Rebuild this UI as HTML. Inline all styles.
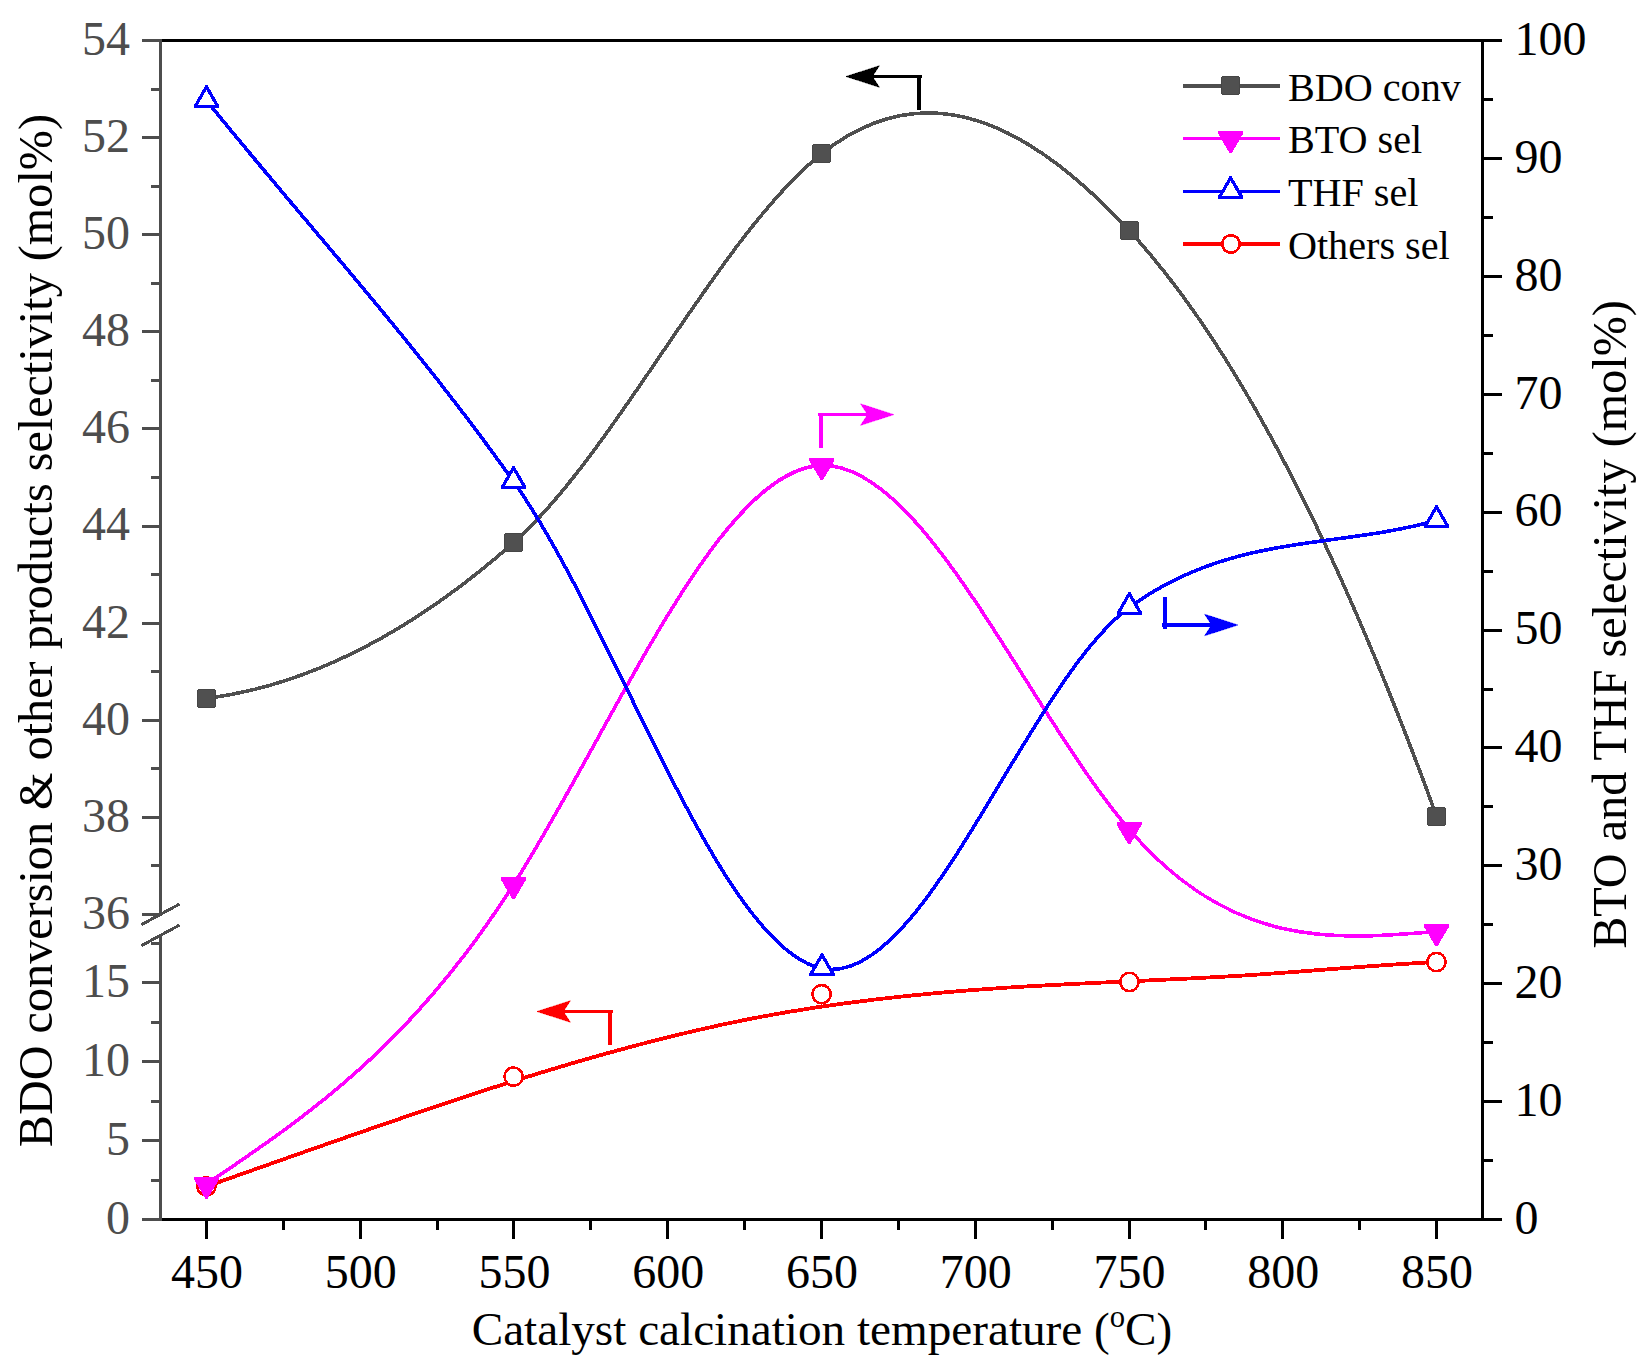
<!DOCTYPE html>
<html lang="en"><head><meta charset="utf-8"><title>BDO conversion and selectivity vs catalyst calcination temperature</title>
<style>html,body{margin:0;padding:0;background:#fff}body{width:1651px;height:1372px;overflow:hidden;font-family:"Liberation Serif","Times New Roman",Times,serif}svg text{white-space:pre}</style>
</head><body>
<svg width="1651" height="1372" viewBox="0 0 1651 1372" shape-rendering="crispEdges" style="display:block">
<rect width="1651" height="1372" fill="#fff"/>
<path d="M206.4,698.5 C308.8,685.2 411.2,633.2 513.6,542.6 C616.2,451.8 718.9,235.5 821.5,153.9 C924.1,72.4 1026.6,119.8 1129.2,230.6 C1231.7,341.3 1334.1,534.6 1436.6,816.4" fill="none" stroke="#4f4f4f" stroke-width="3.6" stroke-linejoin="round"/>
<path d="M198,689h17v1h1v17h-1v1h-17v-1h-1v-17h1z" fill="#464646"/><rect x="198" y="690" width="17" height="17" fill="#505050"/>
<path d="M505,533h17v1h1v17h-1v1h-17v-1h-1v-17h1z" fill="#464646"/><rect x="505" y="534" width="17" height="17" fill="#505050"/>
<path d="M813,144h17v1h1v17h-1v1h-17v-1h-1v-17h1z" fill="#464646"/><rect x="813" y="145" width="17" height="17" fill="#505050"/>
<path d="M1121,221h17v1h1v17h-1v1h-17v-1h-1v-17h1z" fill="#464646"/><rect x="1121" y="222" width="17" height="17" fill="#505050"/>
<path d="M1428,807h17v1h1v17h-1v1h-17v-1h-1v-17h1z" fill="#464646"/><rect x="1428" y="808" width="17" height="17" fill="#505050"/>
<path d="M206.4,1186.5 C304.3,1152.0 402.1,1116.6 500.0,1085.4 C583.3,1058.8 666.7,1035.2 750.0,1018.9 C833.3,1002.6 916.7,993.6 1000.0,988.1 C1083.3,982.5 1166.7,980.5 1250.0,975.1 C1312.2,971.0 1374.3,965.1 1436.5,962.0" fill="none" stroke="#ff0000" stroke-width="3.8" stroke-linejoin="round"/>
<circle cx="206.40" cy="1186.40" r="9.15" fill="#fff" stroke="#ff0000" stroke-width="2.6"/>
<circle cx="513.60" cy="1076.60" r="9.15" fill="#fff" stroke="#ff0000" stroke-width="2.6"/>
<circle cx="821.60" cy="994.20" r="9.15" fill="#fff" stroke="#ff0000" stroke-width="2.6"/>
<circle cx="1129.45" cy="981.95" r="9.15" fill="#fff" stroke="#ff0000" stroke-width="2.6"/>
<circle cx="1436.45" cy="962.05" r="9.15" fill="#fff" stroke="#ff0000" stroke-width="2.6"/>
<path d="M206.5,1184.1 C308.8,1114.9 411.2,1045.7 513.5,884.6 C616.3,722.8 719.0,468.3 821.8,465.5 C924.3,462.7 1026.7,710.1 1129.2,829.5 C1231.6,948.8 1334.1,940.2 1436.5,931.5" fill="none" stroke="#ff00ff" stroke-width="3.6" stroke-linejoin="round"/>
<path d="M193.95,1176.50 H219.05 V1179.30 L207.50,1198.90 H205.50 L193.95,1179.30 Z" fill="#ff00ff"/>
<path d="M500.95,877.00 H526.05 V879.80 L514.50,899.40 H512.50 L500.95,879.80 Z" fill="#ff00ff"/>
<path d="M809.25,457.90 H834.35 V460.70 L822.80,480.30 H820.80 L809.25,460.70 Z" fill="#ff00ff"/>
<path d="M1116.65,821.90 H1141.75 V824.70 L1130.20,844.30 H1128.20 L1116.65,824.70 Z" fill="#ff00ff"/>
<path d="M1423.95,923.90 H1449.05 V926.70 L1437.50,946.30 H1435.50 L1423.95,926.70 Z" fill="#ff00ff"/>
<path d="M206.5,100.5 C308.8,227.5 411.2,337.1 513.5,481.4 C616.4,626.4 719.2,947.7 822.0,968.5 C924.5,989.2 1026.9,682.1 1129.4,607.4 C1231.8,532.8 1334.1,549.4 1436.5,520.4" fill="none" stroke="#0000ff" stroke-width="3.6" stroke-linejoin="round"/>
<path d="M193.95,108.10 H219.05 V105.30 L207.50,85.20 H205.50 L193.95,105.30 Z" fill="#0000ff"/><path d="M197.90,105.10 L215.10,105.10 L206.50,90.00 Z" fill="#fff"/>
<path d="M501.00,489.00 H526.10 V486.20 L514.55,466.10 H512.55 L501.00,486.20 Z" fill="#0000ff"/><path d="M504.95,486.00 L522.15,486.00 L513.55,470.90 Z" fill="#fff"/>
<path d="M809.45,976.10 H834.55 V973.30 L823.00,953.20 H821.00 L809.45,973.30 Z" fill="#0000ff"/><path d="M813.40,973.10 L830.60,973.10 L822.00,958.00 Z" fill="#fff"/>
<path d="M1116.85,615.00 H1141.95 V612.20 L1130.40,592.10 H1128.40 L1116.85,612.20 Z" fill="#0000ff"/><path d="M1120.80,612.00 L1138.00,612.00 L1129.40,596.90 Z" fill="#fff"/>
<path d="M1423.95,528.00 H1449.05 V525.20 L1437.50,505.10 H1435.50 L1423.95,525.20 Z" fill="#0000ff"/><path d="M1427.90,525.00 L1445.10,525.00 L1436.50,509.90 Z" fill="#fff"/>
<g stroke-width="3" fill="none" stroke-linecap="butt">
<path d="M159.0,40.5 H1484.0 M159.0,1219.5 H1484.0 M1482.5,40.5 V1219.5" stroke="#000"/>
<path d="M160.5,39.0 V915.5 M160.5,934.5 V1221.0" stroke="#4d4d4d"/>
<path d="M142.6,924.0 L178.4,904.7 M142.6,945.0 L178.4,925.7" stroke="#4d4d4d" stroke-width="3" stroke-linecap="round"/>
<path d="M142.0,914.5 H160.5 M151.0,865.9 H160.5 M142.0,817.4 H160.5 M151.0,768.8 H160.5 M142.0,720.3 H160.5 M151.0,671.7 H160.5 M142.0,623.2 H160.5 M151.0,574.6 H160.5 M142.0,526.1 H160.5 M151.0,477.5 H160.5 M142.0,428.9 H160.5 M151.0,380.4 H160.5 M142.0,331.8 H160.5 M151.0,283.3 H160.5 M142.0,234.7 H160.5 M151.0,186.2 H160.5 M142.0,137.6 H160.5 M151.0,89.1 H160.5 M142.0,40.5 H160.5 M142.0,1219.5 H160.5 M151.0,1180.0 H160.5 M142.0,1140.5 H160.5 M151.0,1101.0 H160.5 M142.0,1061.5 H160.5 M151.0,1022.0 H160.5 M142.0,982.5 H160.5 M151.0,943.0 H160.5 " stroke="#4d4d4d"/>
<path d="M1482.5,1219.5 H1502.0 M1482.5,1160.5 H1493.0 M1482.5,1101.6 H1502.0 M1482.5,1042.7 H1493.0 M1482.5,983.7 H1502.0 M1482.5,924.8 H1493.0 M1482.5,865.8 H1502.0 M1482.5,806.9 H1493.0 M1482.5,747.9 H1502.0 M1482.5,689.0 H1493.0 M1482.5,630.0 H1502.0 M1482.5,571.1 H1493.0 M1482.5,512.1 H1502.0 M1482.5,453.2 H1493.0 M1482.5,394.2 H1502.0 M1482.5,335.3 H1493.0 M1482.5,276.3 H1502.0 M1482.5,217.4 H1493.0 M1482.5,158.4 H1502.0 M1482.5,99.5 H1493.0 M1482.5,40.5 H1502.0 M206.4,1219.5 V1239.0 M283.3,1219.5 V1229.5 M360.2,1219.5 V1239.0 M437.0,1219.5 V1229.5 M513.9,1219.5 V1239.0 M590.8,1219.5 V1229.5 M667.7,1219.5 V1239.0 M744.6,1219.5 V1229.5 M821.4,1219.5 V1239.0 M898.3,1219.5 V1229.5 M975.2,1219.5 V1239.0 M1052.1,1219.5 V1229.5 M1129.0,1219.5 V1239.0 M1205.9,1219.5 V1229.5 M1282.7,1219.5 V1239.0 M1359.6,1219.5 V1229.5 M1436.5,1219.5 V1239.0 " stroke="#000"/>
</g>
<g font-family='"Liberation Serif","Times New Roman",Times,serif' font-size="48">
<text x="130.0" y="928.8" text-anchor="end" fill="#4d4d4d">36</text>
<text x="130.0" y="831.7" text-anchor="end" fill="#4d4d4d">38</text>
<text x="130.0" y="734.6" text-anchor="end" fill="#4d4d4d">40</text>
<text x="130.0" y="637.5" text-anchor="end" fill="#4d4d4d">42</text>
<text x="130.0" y="540.4" text-anchor="end" fill="#4d4d4d">44</text>
<text x="130.0" y="443.3" text-anchor="end" fill="#4d4d4d">46</text>
<text x="130.0" y="346.2" text-anchor="end" fill="#4d4d4d">48</text>
<text x="130.0" y="249.0" text-anchor="end" fill="#4d4d4d">50</text>
<text x="130.0" y="151.9" text-anchor="end" fill="#4d4d4d">52</text>
<text x="130.0" y="54.8" text-anchor="end" fill="#4d4d4d">54</text>
<text x="130.0" y="1233.8" text-anchor="end" fill="#4d4d4d">0</text>
<text x="130.0" y="1154.8" text-anchor="end" fill="#4d4d4d">5</text>
<text x="130.0" y="1075.8" text-anchor="end" fill="#4d4d4d">10</text>
<text x="130.0" y="996.8" text-anchor="end" fill="#4d4d4d">15</text>
<text x="1514.5" y="1233.8" text-anchor="start" fill="#000">0</text>
<text x="1514.5" y="1115.9" text-anchor="start" fill="#000">10</text>
<text x="1514.5" y="998.0" text-anchor="start" fill="#000">20</text>
<text x="1514.5" y="880.1" text-anchor="start" fill="#000">30</text>
<text x="1514.5" y="762.2" text-anchor="start" fill="#000">40</text>
<text x="1514.5" y="644.3" text-anchor="start" fill="#000">50</text>
<text x="1514.5" y="526.4" text-anchor="start" fill="#000">60</text>
<text x="1514.5" y="408.5" text-anchor="start" fill="#000">70</text>
<text x="1514.5" y="290.6" text-anchor="start" fill="#000">80</text>
<text x="1514.5" y="172.7" text-anchor="start" fill="#000">90</text>
<text x="1514.5" y="54.8" text-anchor="start" fill="#000">100</text>
<text x="206.9" y="1288.2" text-anchor="middle" fill="#000">450</text>
<text x="360.7" y="1288.2" text-anchor="middle" fill="#000">500</text>
<text x="514.4" y="1288.2" text-anchor="middle" fill="#000">550</text>
<text x="668.2" y="1288.2" text-anchor="middle" fill="#000">600</text>
<text x="821.9" y="1288.2" text-anchor="middle" fill="#000">650</text>
<text x="975.7" y="1288.2" text-anchor="middle" fill="#000">700</text>
<text x="1129.5" y="1288.2" text-anchor="middle" fill="#000">750</text>
<text x="1283.2" y="1288.2" text-anchor="middle" fill="#000">800</text>
<text x="1437.0" y="1288.2" text-anchor="middle" fill="#000">850</text>
</g>
<g font-family='"Liberation Serif","Times New Roman",Times,serif' font-size="48.2" fill="#000">
<text x="822" y="1345.2" font-size="47.2" text-anchor="middle">Catalyst calcination temperature (<tspan font-size="30.7" dy="-18.5">o</tspan><tspan dy="18.5">C)</tspan></text>
<text transform="translate(52,630.6) rotate(-90)" text-anchor="middle">BDO conversion &amp; other products selectivity (mol%)</text>
<text transform="translate(1626.2,624.5) rotate(-90)" text-anchor="middle">BTO and THF selectivity (mol%)</text>
</g>
<path d="M1183.2,86.0 H1280" stroke="#4f4f4f" stroke-width="3.5" fill="none"/>
<path d="M1183.2,138.5 H1280" stroke="#ff00ff" stroke-width="3.5" fill="none"/>
<path d="M1183.2,191.5 H1280" stroke="#0000ff" stroke-width="3.5" fill="none"/>
<path d="M1183.2,244.0 H1280" stroke="#ff0000" stroke-width="3.5" fill="none"/>
<path d="M1222,76h17v1h1v17h-1v1h-17v-1h-1v-17h1z" fill="#464646"/><rect x="1222" y="77" width="17" height="17" fill="#505050"/>
<path d="M1218.05,130.90 H1243.15 V133.70 L1231.60,153.30 H1229.60 L1218.05,133.70 Z" fill="#ff00ff"/>
<path d="M1218.05,199.10 H1243.15 V196.30 L1231.60,176.20 H1229.60 L1218.05,196.30 Z" fill="#0000ff"/><path d="M1222.00,196.10 L1239.20,196.10 L1230.60,181.00 Z" fill="#fff"/>
<circle cx="1230.95" cy="243.95" r="8.75" fill="#fff" stroke="#ff0000" stroke-width="2.6"/>
<g font-family='"Liberation Serif","Times New Roman",Times,serif' font-size="40.2" fill="#000">
<text x="1287.9" y="100.5">BDO conv</text>
<text x="1287.9" y="153.0">BTO sel</text>
<text x="1287.9" y="206.0">THF sel</text>
<text x="1287.9" y="258.5">Others sel</text>
</g>
<path d="M919.0,75.0 V109.8" stroke="#000" stroke-width="4.1" fill="none"/><path d="M922.0,76.5 H870.3" stroke="#000" stroke-width="3.1" fill="none"/><path d="M846.1,76.5 L879.3,65.8 L872.3,76.5 L879.3,87.2 Z" fill="#000" stroke="#000" stroke-width="0.6" stroke-linejoin="round"/>
<path d="M821.0,412.8 V447.9" stroke="#ff00ff" stroke-width="4.1" fill="none"/><path d="M818.0,414.6 H869.6" stroke="#ff00ff" stroke-width="3.4" fill="none"/><path d="M893.8,414.6 L860.6,403.90000000000003 L867.6,414.6 L860.6,425.3 Z" fill="#ff00ff" stroke="#ff00ff" stroke-width="0.6" stroke-linejoin="round"/>
<path d="M1165.0,597.0 V628.9" stroke="#0000ff" stroke-width="4.1" fill="none"/><path d="M1162.0,625.0 H1213.7" stroke="#0000ff" stroke-width="3.9" fill="none"/><path d="M1237.9,625.0 L1204.7,614.3 L1211.7,625.0 L1204.7,635.7 Z" fill="#0000ff" stroke="#0000ff" stroke-width="0.6" stroke-linejoin="round"/>
<path d="M610.0,1009.8 V1044.8" stroke="#ff0000" stroke-width="4.1" fill="none"/><path d="M613.0,1011.5 H561.3" stroke="#ff0000" stroke-width="3.4" fill="none"/><path d="M537.1,1011.5 L570.3,1000.8 L563.3,1011.5 L570.3,1022.2 Z" fill="#ff0000" stroke="#ff0000" stroke-width="0.6" stroke-linejoin="round"/>
</svg>
</body></html>
